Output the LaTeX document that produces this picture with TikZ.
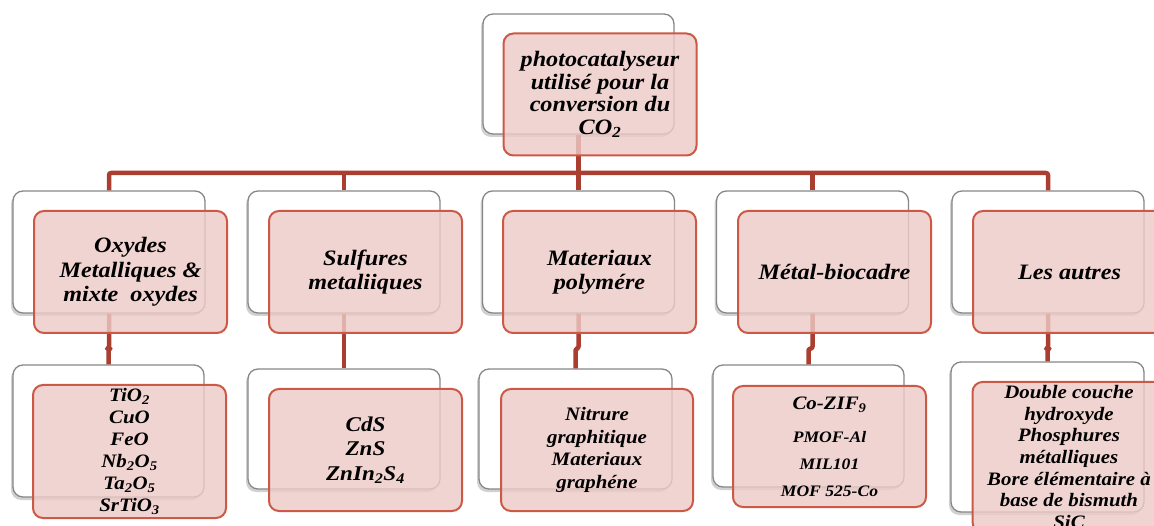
\documentclass[tikz,border=0pt]{standalone}
\usepackage{fontspec}
\setmainfont{Liberation Serif}[FakeStretch=1.1]
\usetikzlibrary{shadows}
\definecolor{accred}{RGB}{204,88,70}
\definecolor{connred}{RGB}{170,62,48}
\definecolor{pinkfill}{RGB}{237,203,199}
\definecolor{graybd}{RGB}{135,135,135}
\tikzset{
  boxsize/.style 2 args={minimum width=#1pt, minimum height=#2pt},
  backbox/.style={draw=graybd, line width=1.3pt, fill=white, rounded corners=10pt, inner sep=0pt,
    drop shadow={shadow xshift=-2pt, shadow yshift=-3pt, opacity=0.3, fill=black!60}},
  frontbox/.style={draw=accred, line width=2pt, fill=pinkfill, fill opacity=0.82, text opacity=1,
    rounded corners=10pt, inner sep=0pt, align=center},
  bigtext/.style={font=\fontsize{22}{24.5}\selectfont\bfseries\itshape},
  smalltext/.style={font=\fontsize{19}{22}\selectfont\bfseries\itshape},
  conn/.style={draw=connred, line width=4.5pt, line join=round, rounded corners=2pt},
}
\begin{document}
\begin{tikzpicture}[x=1pt,y=-1pt]
\useasboundingbox (0,0) rectangle (1154,526);
\clip (0,0) rectangle (1154,526);
% back boxes
\node[backbox, boxsize={191}{120}] (w0) at (578.5,74) {};
\node[backbox, boxsize={192}{122}] (w1) at (109,252) {};
\node[backbox, boxsize={192}{122}] (w2) at (344,252) {};
\node[backbox, boxsize={192}{122}] (w3) at (578.5,252) {};
\node[backbox, boxsize={192}{122}] (w4) at (812.5,252) {};
\node[backbox, boxsize={192}{122}] (w5) at (1048,252) {};
\node[backbox, boxsize={191}{132}] (v1) at (108.5,431) {};
\node[backbox, boxsize={192}{120}] (v2) at (344,429) {};
\node[backbox, boxsize={193}{120}] (v3) at (575.5,429) {};
\node[backbox, boxsize={191}{122}] (v4) at (808.5,426) {};
\node[backbox, boxsize={193}{150}] (v5) at (1047.5,437) {};
% connectors
\coordinate (bar) at (578.5,173);
\draw[conn] (w0.south) -- (w0.south |- bar);
\draw[conn] (w1.north) -- (w1.north |- bar) -- (w5.north |- bar) -- (w5.north);
\foreach \i in {2,3,4} \draw[conn] (w\i.north) -- (w\i.north |- bar);
\foreach \i in {1,...,5} \draw[conn] (w\i.south) -- ++(0,35) -| (v\i.north);
% front boxes
\node[frontbox, boxsize={193}{122}, font=\fontsize{22}{22.5}\selectfont\bfseries\itshape] (p0) at (600,94.5)
  {photocatalyseur\\utilisé pour la\\conversion du\\CO\textsubscript{2}};
\node[frontbox, boxsize={193}{122}, bigtext] (p1) at (130.5,272) {Oxydes\\Metalliques \&\\mixte~~oxydes};
\node[frontbox, boxsize={193}{122}, bigtext] (p2) at (365.5,272) {Sulfures\\metaliiques};
\node[frontbox, boxsize={193}{122}, bigtext] (p3) at (599.5,272) {Materiaux\\polymére};
\node[frontbox, boxsize={193}{122}, bigtext] (p4) at (834.5,272) {Métal-biocadre};
\node[frontbox, boxsize={193}{122}, bigtext] (p5) at (1069.5,272) {Les autres};
\node[frontbox, boxsize={193}{133}, smalltext] (q1) at (129.5,451.5)
  {TiO\textsubscript{2}\\CuO\\FeO\\Nb\textsubscript{2}O\textsubscript{5}\\Ta\textsubscript{2}O\textsubscript{5}\\SrTiO\textsubscript{3}};
\node[frontbox, boxsize={193}{122}, font=\fontsize{21}{24.5}\selectfont\bfseries\itshape] (q2) at (365.5,450)
  {CdS\\ZnS\\ZnIn\textsubscript{2}S\textsubscript{4}};
\node[frontbox, boxsize={192}{122}, font=\fontsize{19}{22.6}\selectfont\bfseries\itshape] (q3) at (597,450)
  {Nitrure\\graphitique\\Materiaux\\graphéne};
\node[frontbox, boxsize={193}{121}, font=\fontsize{16}{27}\selectfont\bfseries\itshape] (q4) at (829.5,446.5)
  {{\fontsize{19}{27}\selectfont Co-ZIF\textsubscript{9}}\\[6pt]PMOF-Al\\MIL101\\MOF 525-Co};
\node[frontbox, boxsize={193}{150}, font=\fontsize{19}{21.7}\selectfont\bfseries\itshape] (q5) at (1069,457)
  {Double couche\\hydroxyde\\Phosphures\\métalliques\\Bore élémentaire à\\base de bismuth\\SiC};
\end{tikzpicture}
\end{document}
